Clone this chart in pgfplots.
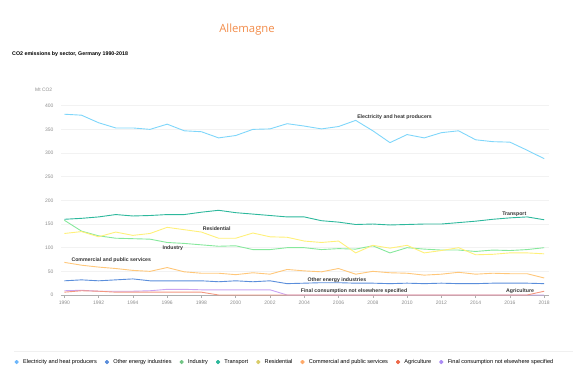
\documentclass[border=0pt]{standalone}
\usepackage{fontspec}
\setmainfont{Liberation Sans}
\newfontfamily\titlefont{Open Sans}
\usepackage{pgfplots}
\pgfplotsset{compat=1.18}
\usepackage{pgfplotstable}

\definecolor{celec}{HTML}{7FD6FA}
\definecolor{cother}{HTML}{5B8EDB}
\definecolor{cind}{HTML}{86E89C}
\definecolor{ctrans}{HTML}{2DB89C}
\definecolor{cres}{HTML}{FFF07A}
\definecolor{ccom}{HTML}{FFC77A}
\definecolor{cagr}{HTML}{EE6A4A}
\definecolor{cfin}{HTML}{C9A3F2}
\definecolor{ctitle}{HTML}{F28C4A}
\definecolor{ctick}{HTML}{8C8C8C}
\definecolor{clabel}{HTML}{333333}

\pgfplotstableread{
year elec other ind trans res com agr fin
1990 382 30 158 160 130 69 6 9
1991 380 32 135 162 134 63 9 10
1992 364 30 125 165 123 59 8 8
1993 353 32 120 170 133 56 6 8
1994 353 34 119 167 126 52 6 8
1995 350 30 118 168 130 50 6 9
1996 361 30 111 170 143 58 6 12
1997 347 30 109 170 138 49 6 12
1998 345 30 106 175 133 46 6 11
1999 332 28 103 179 120 46 0 11
2000 337 30 104 174 120 43 0 11
2001 350 28 96 171 131 47 0 11
2002 351 30 96 168 123 44 0 11
2003 362 24 100 165 122 54 0 0
2004 357 25 100 165 114 51 0 0
2005 351 26 96 157 111 49 0 0
2006 356 26 98 154 114 56 0 0
2007 369 25 97 149 89 44 0 0
2008 347 25 104 150 105 50 0 0
2009 322 24 89 148 99 47 0 0
2010 339 25 100 149 105 46 0 0
2011 332 24 97 150 89 42 0 0
2012 343 25 95 150 94 44 0 0
2013 347 24 95 153 100 48 0 0
2014 328 24 92 156 85 44 0 0
2015 324 25 95 160 86 46 0 0
2016 323 25 94 163 89 45 0 0
2017 306 25 96 165 89 45 0 0
2018 288 24 100 159 87 36 8 0
}\datatable

\begin{document}
\begin{tikzpicture}
\path[use as bounding box] (0pt,0pt) rectangle (585pt,376pt);
\node[font=\titlefont\fontsize{11.3}{13}\selectfont, text=ctitle] at (247pt,346pt) {Allemagne};
\node[font=\bfseries\fontsize{5.3}{6}\selectfont, anchor=west, inner sep=0pt] at (12pt,322pt) {CO2 emissions by sector, Germany 1990-2018};
\node[font=\fontsize{4.9}{6}\selectfont, text=ctick, anchor=west, inner sep=0pt] at (35pt,286pt) {Mt CO2};
\draw[gray!12, line width=0.8pt] (14pt,25pt) -- (573pt,25pt);

\begin{axis}[
  at={(60.9pt,81pt)}, anchor=south west,
  scale only axis, width=488.1pt, height=189.3pt,
  xmin=1989.8, xmax=2018.28, ymin=0, ymax=400,
  axis x line*=bottom, axis y line*=left,
  y axis line style={draw=none},
  x axis line style={ctick!70, line width=0.6pt},
  xtick={1990,1992,...,2018},
  ytick={0,50,...,400},
  xtick align=outside,
  major tick length=3pt,
  xtick style={ctick!70, line width=0.5pt},
  ytick style={draw=none},
  ymajorgrids,
  grid style={gray!10, line width=0.7pt},
  /pgf/number format/assume math mode=true,
  /pgf/number format/1000 sep={},
  tick label style={font=\fontsize{5}{6}\selectfont, text=ctick},
  xticklabel style={yshift=1pt},
  yticklabel style={xshift=-4pt},
  legend columns=-1,
  legend style={at={(-0.0955,-0.354)}, anchor=west, draw=none, fill=none,
    inner sep=0pt, font=\fontsize{5.6}{6}\selectfont,
    nodes={inner sep=0pt},
    /tikz/every odd column/.append style={column sep=4.3pt},
    /tikz/every even column/.append style={column sep=7.9pt}},
  legend image code/.code={\fill[#1] (1.7pt,0pt) circle (1.7pt);},
  every axis plot/.append style={line width=0.9pt, line join=round},
]
\addlegendimage{color=celec!85!blue}
\addlegendentry{Electricity and heat producers}
\addlegendimage{color=cother}
\addlegendentry{Other energy industries}
\addlegendimage{color=cind!85!black}
\addlegendentry{Industry}
\addlegendimage{color=ctrans}
\addlegendentry{Transport}
\addlegendimage{color=cres!85!black}
\addlegendentry{Residential}
\addlegendimage{color=ccom!85!red}
\addlegendentry{Commercial and public services}
\addlegendimage{color=cagr}
\addlegendentry{Agriculture}
\addlegendimage{color=cfin!85!blue}
\addlegendentry{Final consumption not elsewhere specified}

\addplot[celec, forget plot] table[x=year, y=elec] {\datatable};
\addplot[cother, forget plot] table[x=year, y=other] {\datatable};
\addplot[cind, forget plot] table[x=year, y=ind] {\datatable};
\addplot[ctrans, forget plot] table[x=year, y=trans] {\datatable};
\addplot[cres, forget plot] table[x=year, y=res] {\datatable};
\addplot[ccom, forget plot] table[x=year, y=com] {\datatable};
\addplot[cfin, forget plot] table[x=year, y=fin] {\datatable};
\addplot[cagr!70!white, forget plot] table[x=year, y=agr] {\datatable};

\begin{scope}[every node/.style={font=\bfseries\fontsize{5.2}{6}\selectfont, text=clabel, anchor=west, inner sep=0pt}]
\node at (axis cs:2007.08,375.5) {Electricity and heat producers};
\node at (axis cs:2015.54,170.5) {Transport};
\node at (axis cs:1998.07,139.4) {Residential};
\node at (axis cs:1995.72,98.7) {Industry};
\node at (axis cs:1990.41,73.3) {Commercial and public services};
\node at (axis cs:2004.18,31.1) {Other energy industries};
\node at (axis cs:2003.79,8.5) {Final consumption not elsewhere specified};
\node at (axis cs:2015.77,9.1) {Agriculture};
\end{scope}
\end{axis}
\end{tikzpicture}
\end{document}
